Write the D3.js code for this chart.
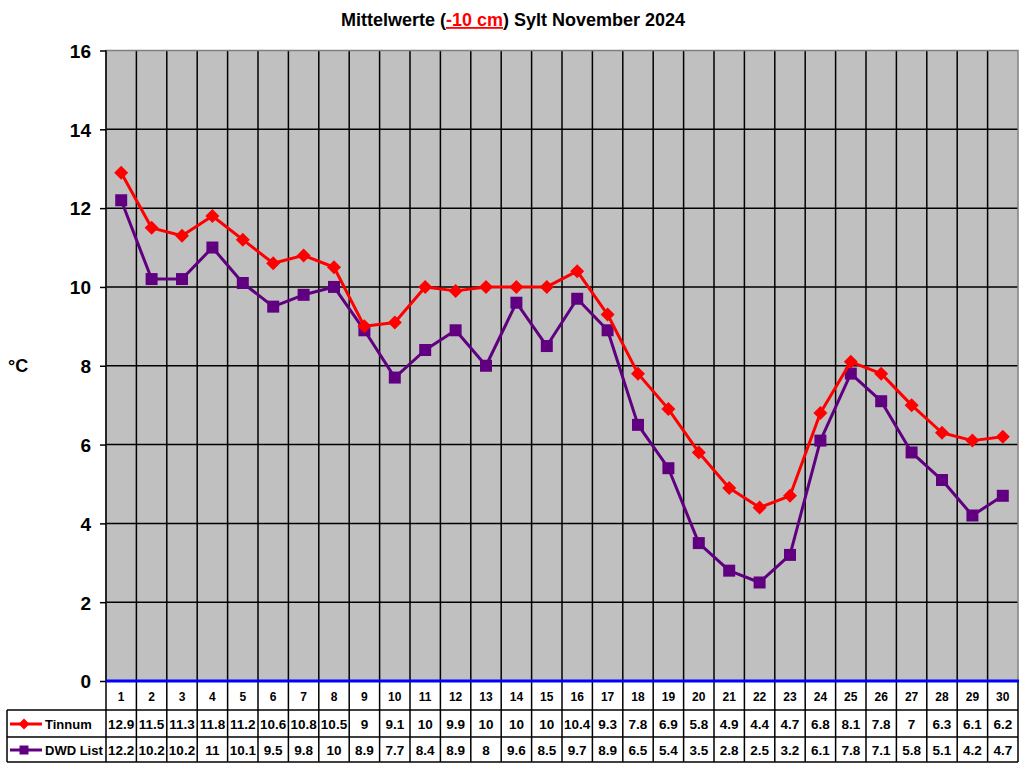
<!DOCTYPE html>
<html><head><meta charset="utf-8">
<script src="https://cdn.jsdelivr.net/npm/d3@7/dist/d3.min.js"></script>
<style>body{margin:0;background:#fff}svg{display:block}text{font-family:"Liberation Sans",Arial,sans-serif;font-weight:bold}</style>
</head><body><svg id="c" width="1024" height="768"></svg>
<script>
const days = ["1","2","3","4","5","6","7","8","9","10","11","12","13","14","15","16","17","18","19","20","21","22","23","24","25","26","27","28","29","30"];
const tinnum = [12.9,11.5,11.3,11.8,11.2,10.6,10.8,10.5,9,9.1,10,9.9,10,10,10,10.4,9.3,7.8,6.9,5.8,4.9,4.4,4.7,6.8,8.1,7.8,7,6.3,6.1,6.2];
const dwd = [12.2,10.2,10.2,11,10.1,9.5,9.8,10,8.9,7.7,8.4,8.9,8,9.6,8.5,9.7,8.9,6.5,5.4,3.5,2.8,2.5,3.2,6.1,7.8,7.1,5.8,5.1,4.2,4.7];
const yTicks = [0,2,4,6,8,10,12,14,16];
const seriesNames = ["Tinnum","DWD List"];

const svg = d3.select("#c");
const L = 106, R = 1018, T = 50.5, B = 681;
const x = d3.scaleBand().domain(days).range([L, R]);
const y = d3.scaleLinear().domain([0, 16]).range([B, T]);

// title
const title = svg.append("text").attr("x", 513).attr("y", 26).attr("text-anchor", "middle").attr("font-size", 18);
title.append("tspan").text("Mittelwerte (");
title.append("tspan").attr("fill", "#ff0000").attr("text-decoration", "underline").text("-10 cm");
title.append("tspan").text(") Sylt November 2024");

// plot background
svg.append("rect").attr("x", L).attr("y", T).attr("width", R - L).attr("height", B - T).attr("fill", "#c0c0c0");

// horizontal gridlines
svg.append("g").selectAll("line").data(yTicks.filter(d => d > 0 && d < 16)).join("line")
  .attr("x1", L).attr("x2", R).attr("y1", d => y(d)).attr("y2", d => y(d))
  .attr("stroke", "#000").attr("stroke-width", 1.5);

// vertical gridlines through plot and table
const bounds = days.slice(1).map(d => x(d));
svg.append("g").selectAll("line").data(bounds).join("line")
  .attr("x1", d => d).attr("x2", d => d).attr("y1", T).attr("y2", 762)
  .attr("stroke", "#000").attr("stroke-width", 1.5);

// plot border top/right
svg.append("path").attr("d", `M${L},${B}V${T}H${R}V${B}`).attr("fill", "none").attr("stroke", "#808080").attr("stroke-width", 1.5);
svg.append("line").attr("x1", L).attr("x2", L).attr("y1", T).attr("y2", 762).attr("stroke", "#000").attr("stroke-width", 1.5);

// y axis
const yAxis = d3.axisLeft(y).tickValues(yTicks).tickSize(6).tickPadding(9).tickFormat(d3.format("d"));
const ga = svg.append("g").attr("transform", `translate(${L},0)`).call(yAxis);
ga.select(".domain").remove();
ga.selectAll(".tick line").attr("stroke", "#000").attr("stroke-width", 1.5);
ga.selectAll(".tick text").attr("font-size", 19).attr("fill", "#000").attr("font-family", "Liberation Sans, Arial, sans-serif").attr("font-weight", "bold").attr("dy", "0.36em");

svg.append("text").attr("x", 8).attr("y", 372).attr("font-size", 18).text("°C");

// table
const rowY = [710, 737, 762];
svg.append("g").selectAll("line").data(rowY).join("line")
  .attr("x1", 7).attr("x2", R).attr("y1", d => d).attr("y2", d => d)
  .attr("stroke", "#000").attr("stroke-width", 1.5);
svg.append("line").attr("x1", 7).attr("x2", 7).attr("y1", 710).attr("y2", 762).attr("stroke", "#000").attr("stroke-width", 1.5);
svg.append("line").attr("x1", R).attr("x2", R).attr("y1", B).attr("y2", 762).attr("stroke", "#000").attr("stroke-width", 1.5);

// zero axis line (blue)
svg.append("line").attr("x1", L).attr("x2", R + 1).attr("y1", y(0)).attr("y2", y(0)).attr("stroke", "#0000ff").attr("stroke-width", 3);

const cx = d => x(d) + x.bandwidth() / 2;
svg.append("g").selectAll("text").data(days).join("text")
  .attr("x", cx).attr("y", 701).attr("text-anchor", "middle").attr("font-size", 12).text(d => d);

const diamond = (s) => `M0,${-s}L${s},0L0,${s}L${-s},0Z`;
const square = (s) => `M${-s},${-s}H${s}V${s}H${-s}Z`;
const rows = [{name: seriesNames[0], vals: tinnum, color: "#ff0000", mark: diamond, big: 7, small: 5.5, base: 729, mid: 724},
              {name: seriesNames[1], vals: dwd, color: "#600080", mark: square, big: 6, small: 4.5, base: 755, mid: 750}];
rows.forEach(r => {
  svg.append("g").selectAll("text").data(r.vals).join("text")
    .attr("x", (v, i) => cx(days[i])).attr("y", r.base).attr("text-anchor", "middle").attr("font-size", 13.5).text(v => v);
  svg.append("line").attr("x1", 10).attr("x2", 42).attr("y1", r.mid).attr("y2", r.mid).attr("stroke", r.color).attr("stroke-width", 3);
  svg.append("path").attr("d", r.mark(r.small)).attr("transform", `translate(24,${r.mid})`).attr("fill", r.color);
  svg.append("text").attr("x", 45).attr("y", r.base).attr("font-size", 13).text(r.name);
});

// series lines
[rows[1], rows[0]].forEach(r => {
  const line = d3.line().x((v, i) => cx(days[i])).y(v => y(v));
  svg.append("path").datum(r.vals).attr("d", line).attr("fill", "none").attr("stroke", r.color).attr("stroke-width", 3).attr("stroke-linejoin", "round");
  svg.append("g").selectAll("path").data(r.vals).join("path")
    .attr("d", r.mark(r.big))
    .attr("transform", (v, i) => `translate(${cx(days[i])},${y(v)})`).attr("fill", r.color);
});
</script></body></html>
